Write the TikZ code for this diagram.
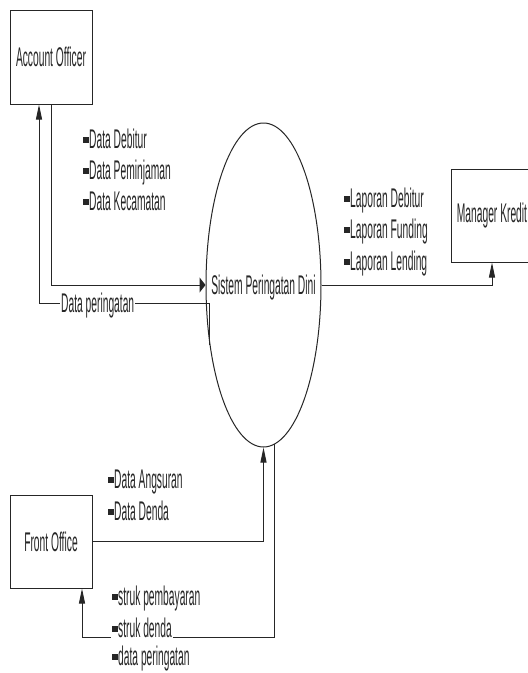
\documentclass[tikz,border=0pt]{standalone}
\usepackage{fontspec}
\newfontfamily\cond[FakeStretch=0.38]{Liberation Sans}
\usetikzlibrary{shapes.geometric,arrows.meta}
\newcommand\mybullet{\rule[5pt]{6pt}{6pt}}
\begin{document}
\begin{tikzpicture}[x=1pt,y=-1pt,
  txt/.style={font=\cond\fontsize{27pt}{32pt}\selectfont, text=black!85},
  box/.style={draw=black!85, line width=1pt, minimum width=82pt, inner sep=0pt, txt},
  lbl/.style={txt, fill=white, inner sep=1pt, anchor=base west},
  con/.style={draw=black!85, line width=1pt},
  av/.style={-{Triangle[length=15pt,width=6pt]}},
  ah/.style={-{Triangle[length=6pt,width=15pt]}}]
\fill[white] (0,0) rectangle (528,673);
\useasboundingbox (0,0) rectangle (528,673);
\clip (0,0) rectangle (528,673);
% nodes
\node[box, minimum height=94pt] (ao) at (51,57) {Account Officer};
\node[box, minimum height=93pt] (fo) at (51,541.5) {Front Office};
\node[box, minimum height=93pt] (mk) at (492,215.5) {Manager Kredit};
\node[draw=black!85, line width=1pt, ellipse, minimum width=115pt, minimum height=324pt, inner sep=0pt] (sys) at (263.5,285) {};
\node[txt] (syst) at (263.5,288) {Sistem Peringatan Dini};
\coordinate (k1) at (39,303);
\coordinate (k2) at (82,637);
% connectors
\draw[con, ah] (ao.south) |- (sys.west);
\draw[con, av] (sys.228) |- (k1) -- (k1 |- ao.south);
\draw[con, av] (sys.east) -| (mk.south);
\draw[con, av] (fo.east) -| (sys.south);
\draw[con, av] (sys.274) |- (k2) -- (k2 |- fo.south);
% labels
\node[lbl] (a1) at (82,148) {\mybullet Data Debitur};
\node[lbl] (a2) at (82,179) {\mybullet Data Peminjaman};
\node[lbl] (a3) at (82,210) {\mybullet Data Kecamatan};
\node[lbl] (dp) at (60,312) {Data peringatan};
\node[lbl] (m1) at (343,207) {\mybullet Laporan Debitur};
\node[lbl] (m2) at (343,238) {\mybullet Laporan Funding};
\node[lbl] (m3) at (343,270) {\mybullet Laporan Lending};
\node[lbl] (f1) at (107,488) {\mybullet Data Angsuran};
\node[lbl] (f2) at (107,520) {\mybullet Data Denda};
\node[lbl] (s1) at (111,605) {\mybullet struk pembayaran};
\node[lbl] (s2) at (111,637) {\mybullet struk denda};
\node[lbl] (s3) at (111,665) {\mybullet data peringatan};
\end{tikzpicture}
\end{document}
